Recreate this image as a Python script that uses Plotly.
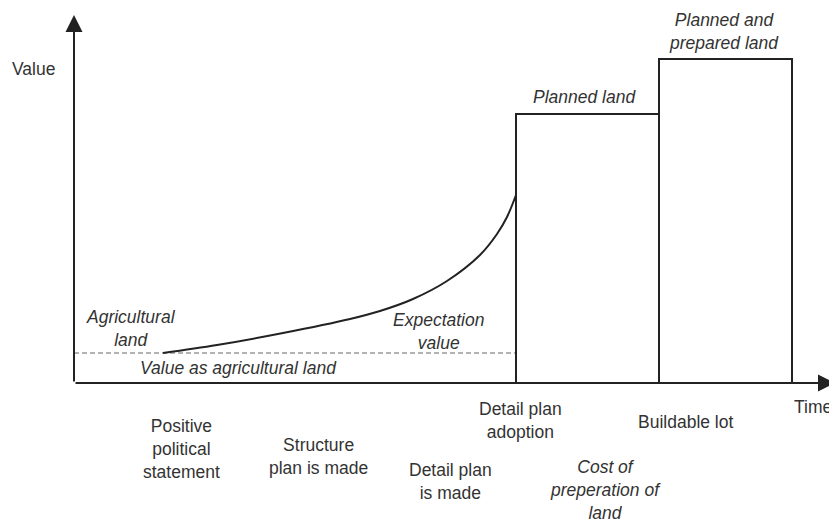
import plotly.graph_objects as go

# time axis positions (arbitrary units) and value levels
agri_value = 30
adoption_t = 442
buildable_t = 585
end_t = 718
planned_value = 269
prepared_value = 324
axis_time_max = 761
axis_value_max = 368

# expectation value curve
curve_t = [89, 143, 209, 276, 306, 339, 373, 406, 423, 433, 442]
curve_v = [30, 38, 50, 64, 72, 84, 102, 128, 149, 166, 188]

# labels under the time axis: (text, t, v, italic)
event_labels = [
    ("Positive<br>political<br>statement", 107, -66, False),
    ("Structure<br>plan is made", 244, -73, False),
    ("Detail plan<br>is made", 376, -98, False),
    ("Detail plan<br>adoption", 446, -37, False),
    ("Buildable lot", 611, -39, False),
    ("Cost of<br>preperation of<br>land", 531, -107, True),
]

# labels inside the chart
value_labels = [
    ("Agricultural<br>land", 57, 55, True),
    ("Value as agricultural land", 164, 15, True),
    ("Expectation<br>value", 364, 52, True),
    ("Planned land", 510, 286, True),
    ("Planned and<br>prepared land", 650, 352, True),
    ("Value", -41, 314, False),
    ("Time", 739, -24, False),
]

ink = "#222222"
text_col = "#333333"
font = "Liberation Sans, Arial, sans-serif"

fig = go.Figure()

# agricultural value baseline (dashed)
fig.add_trace(go.Scatter(x=[0, adoption_t], y=[agri_value, agri_value], mode="lines",
                         line=dict(color="#666666", width=1, dash="5px,3px"), hoverinfo="skip"))

# expectation value curve
fig.add_trace(go.Scatter(x=curve_t, y=curve_v, mode="lines",
                         line=dict(color=ink, width=2, shape="spline", smoothing=1), hoverinfo="skip"))

# planned land / planned and prepared land bars
box_x = [adoption_t, adoption_t, buildable_t, None, buildable_t, buildable_t, end_t, end_t]
box_y = [0, planned_value, planned_value, None, 0, prepared_value, prepared_value, 0]
fig.add_trace(go.Scatter(x=box_x, y=box_y, mode="lines", line=dict(color=ink, width=2), hoverinfo="skip"))

# axes with arrowheads
for tx, ty in [(0, axis_value_max), (axis_time_max, 0)]:
    fig.add_annotation(x=tx, y=ty, ax=0, ay=0, xref="x", yref="y", axref="x", ayref="y",
                       text="", showarrow=True, arrowhead=2, arrowsize=1.7, arrowwidth=2, arrowcolor=ink)

for text, t, v, it in event_labels + value_labels:
    if it:
        text = "<i>" + text + "</i>"
    fig.add_annotation(x=t, y=v, text=text, showarrow=False, xanchor="center", yanchor="middle",
                       font=dict(family=font, size=17.5, color=text_col))

# page body has an 8px margin, so the figure is 8px smaller and the ranges start 8px in
fig.update_xaxes(range=[-66, 763], visible=False, showgrid=False, zeroline=False)
fig.update_yaxes(range=[-139, 375], visible=False, showgrid=False, zeroline=False)
fig.update_layout(width=829, height=514, margin=dict(l=0, r=0, t=0, b=0),
                  plot_bgcolor="white", paper_bgcolor="white", showlegend=False)

fig.write_html("out.html")
